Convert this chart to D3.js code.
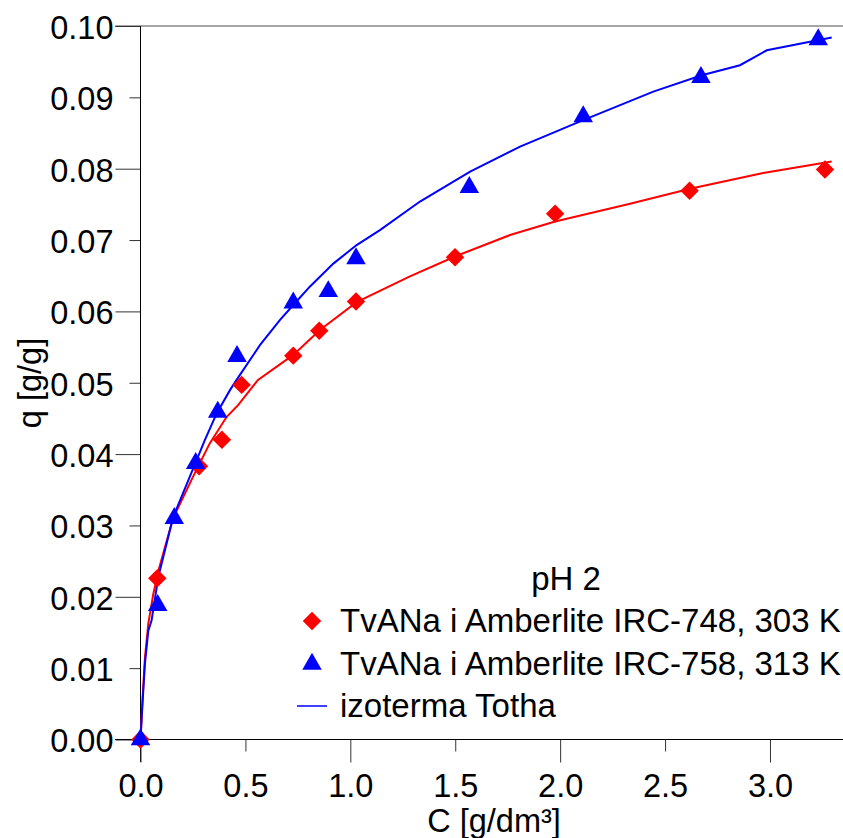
<!DOCTYPE html>
<meta charset="utf-8">
<script src="https://d3js.org/d3.v7.min.js"></script>
<style>
  body { margin: 0; background: #fff; }
  text { font-family: "Liberation Sans", Arial, sans-serif; }
</style>
<div id="my_dataviz"></div>
<script>

// measured points, C [g/dm3] and q [g/g]
var red748C = [0, 0.080, 0.279, 0.388, 0.482, 0.728, 0.852, 1.027, 1.499, 1.976, 2.617, 3.262];
var red748Q = [0, 0.0226, 0.0383, 0.0420, 0.0497, 0.0538, 0.0573, 0.0614, 0.0676, 0.0737, 0.0769, 0.0799];

var blue758C = [0, 0.082, 0.161, 0.263, 0.368, 0.460, 0.728, 0.895, 1.027, 1.567, 2.110, 2.671, 3.230];
var blue758Q = [0, 0.0188, 0.0310, 0.0387, 0.0459, 0.0537, 0.0612, 0.0628, 0.0674, 0.0774, 0.0873, 0.0928, 0.0981];

// Toth isotherm curves
var tothRedC = [0, 0.010, 0.021, 0.037, 0.061, 0.085, 0.155, 0.250, 0.330, 0.410, 0.466, 0.560, 0.728, 0.855, 1.030, 1.284, 1.499, 1.761, 1.976, 2.333, 2.619, 2.857, 2.968, 3.294];
var tothRedQ = [0, 0.0058, 0.0114, 0.0162, 0.0204, 0.0236, 0.0310, 0.0368, 0.0415, 0.0452, 0.0469, 0.0504, 0.0539, 0.0574, 0.0613, 0.0649, 0.0677, 0.0707, 0.0726, 0.0751, 0.0772, 0.0787, 0.0794, 0.0810];

var tothBlueC = [0, 0.010, 0.021, 0.037, 0.053, 0.085, 0.156, 0.268, 0.307, 0.363, 0.427, 0.458, 0.570, 0.665, 0.728, 0.808, 0.919, 1.030, 1.141, 1.332, 1.571, 1.809, 2.110, 2.444, 2.675, 2.857, 2.985, 3.294];
var tothBlueQ = [0, 0.0053, 0.0106, 0.0152, 0.0167, 0.0228, 0.0312, 0.0392, 0.0420, 0.0457, 0.0490, 0.0504, 0.0553, 0.0588, 0.0609, 0.0635, 0.0667, 0.0693, 0.0714, 0.0754, 0.0796, 0.0831, 0.0868, 0.0908, 0.0931, 0.0945, 0.0966, 0.0984];

var xTicks = [0, 0.5, 1.0, 1.5, 2.0, 2.5, 3.0];
var yTicks = [0, 0.01, 0.02, 0.03, 0.04, 0.05, 0.06, 0.07, 0.08, 0.09, 0.10];

var legendTitle = "pH 2";
var legendLabels = ["TvANa i Amberlite IRC-748, 303 K", "TvANa i Amberlite IRC-758, 313 K", "izoterma Totha"];

var W = 843, H = 838;
var fontSize = 32.5;
var legendFont = 33;

var svg = d3.select("#my_dataviz")
  .append("svg")
    .attr("width", W)
    .attr("height", H);

var x = d3.scaleLinear()
  .domain([0, 3.348])
  .range([140.5, 843]);

var y = d3.scaleLinear()
  .domain([0, 0.10])
  .range([739.5, 26]);

// top frame line
svg.append("line")
  .attr("x1", 115).attr("x2", W)
  .attr("y1", y(0.10)).attr("y2", y(0.10))
  .style("stroke", "#888")
  .style("stroke-width", 1.5);

// Y axis
var gy = svg.append("g")
  .attr("transform", "translate(" + x(0) + ",0)")
  .call(d3.axisLeft(y).tickValues(yTicks).tickSize(25).tickPadding(2)
    .tickFormat(d3.format(".2f")));
gy.select(".domain").remove();
gy.selectAll(".tick line")
  .attr("x2", function(d, i) { return i % 2 == 0 ? -25 : -11; })
  .style("stroke", "#333");
gy.selectAll(".tick text")
  .attr("dy", "0.38em")
  .style("font-size", fontSize + "px")
  .style("fill", "#000");
svg.append("line")
  .attr("x1", x(0)).attr("x2", x(0))
  .attr("y1", y(0.10)).attr("y2", 762)
  .style("stroke", "#000");

// X axis
var gx = svg.append("g")
  .attr("transform", "translate(0," + y(0) + ")")
  .call(d3.axisBottom(x).tickValues(xTicks).tickSize(23).tickPadding(11)
    .tickFormat(d3.format(".1f")));
gx.select(".domain").remove();
gx.selectAll(".tick line")
  .attr("y2", function(d, i) { return i % 2 == 0 ? 23 : 12; })
  .style("stroke", "#333");
gx.selectAll(".tick text")
  .style("font-size", fontSize + "px")
  .style("fill", "#000");
svg.append("line")
  .attr("x1", 115).attr("x2", W)
  .attr("y1", y(0)).attr("y2", y(0))
  .style("stroke", "#000");

// axis titles
svg.append("text")
  .attr("transform", "translate(41,383) rotate(-90)")
  .attr("text-anchor", "middle")
  .style("font-size", fontSize + "px")
  .text("q [g/g]");

svg.append("text")
  .attr("x", 494).attr("y", 832)
  .attr("text-anchor", "middle")
  .style("font-size", fontSize + "px")
  .text("C [g/dm³]");

// fitted curves
var line = d3.line()
  .x(function(d) { return x(d[0]); })
  .y(function(d) { return y(d[1]); });

svg.append("path")
  .datum(d3.zip(tothRedC, tothRedQ))
  .attr("d", line)
  .style("fill", "none")
  .style("stroke", "#ff0000")
  .style("stroke-width", 2);

svg.append("path")
  .datum(d3.zip(tothBlueC, tothBlueQ))
  .attr("d", line)
  .style("fill", "none")
  .style("stroke", "#0000ff")
  .style("stroke-width", 2);

// markers
var diamond = d3.symbol().type(d3.symbolSquare).size(170);
var triangle = d3.symbol().type(d3.symbolTriangle).size(165);

svg.selectAll(".red")
  .data(d3.zip(red748C, red748Q))
  .enter()
  .append("path")
    .attr("d", diamond)
    .attr("transform", function(d) { return "translate(" + x(d[0]) + "," + y(d[1]) + ") rotate(45)"; })
    .style("fill", "#ff0000");

svg.selectAll(".blue")
  .data(d3.zip(blue758C, blue758Q))
  .enter()
  .append("path")
    .attr("d", triangle)
    .attr("transform", function(d) { return "translate(" + x(d[0]) + "," + y(d[1]) + ")"; })
    .style("fill", "#0000ff");

// legend
var leg = svg.append("g");
leg.append("text")
  .attr("x", 566).attr("y", 590)
  .attr("text-anchor", "middle")
  .style("font-size", legendFont + "px")
  .text(legendTitle);

leg.append("path")
  .attr("d", diamond)
  .attr("transform", "translate(312,621) rotate(45)")
  .style("fill", "#ff0000");
leg.append("path")
  .attr("d", triangle)
  .attr("transform", "translate(312,664)")
  .style("fill", "#0000ff");
leg.append("line")
  .attr("x1", 297).attr("x2", 327)
  .attr("y1", 706).attr("y2", 706)
  .style("stroke", "#0000ff")
  .style("stroke-width", 1.5);

leg.selectAll(".lab")
  .data(legendLabels)
  .enter()
  .append("text")
    .attr("x", 340)
    .attr("y", function(d, i) { return 632 + i * 42.5; })
    .style("font-size", legendFont + "px")
    .text(function(d) { return d; });

</script>
